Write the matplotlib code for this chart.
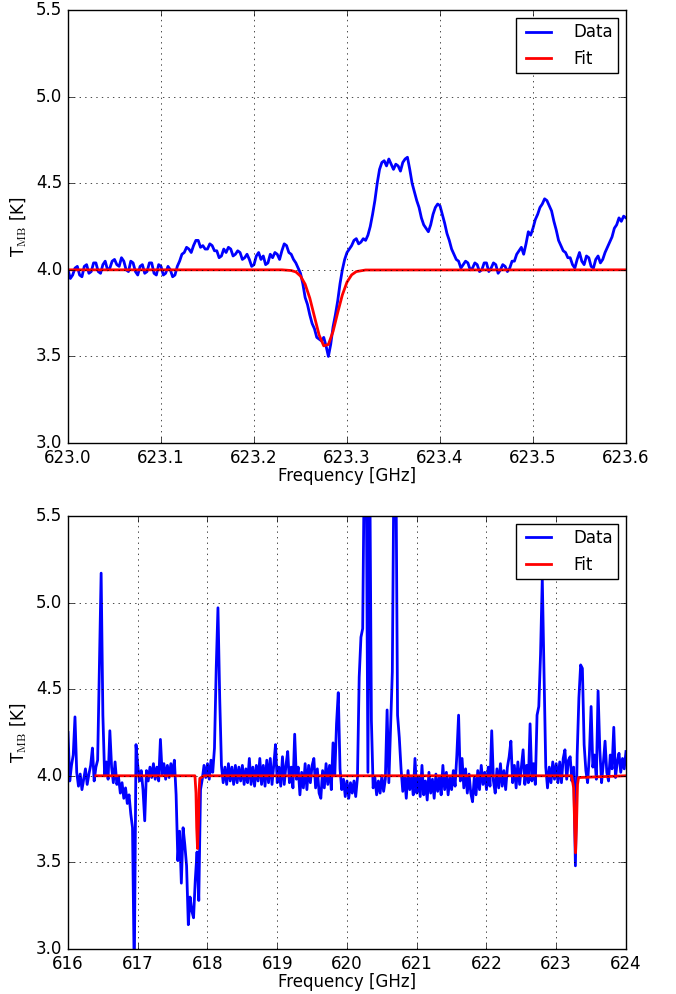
import numpy as np
import matplotlib
matplotlib.use("Agg")
import matplotlib.pyplot as plt
from matplotlib.ticker import FormatStrFormatter

plt.style.use("classic")
plt.rcParams["figure.facecolor"] = "white"
plt.rcParams["savefig.facecolor"] = "white"
plt.rcParams["font.size"] = 12
plt.rcParams["legend.fontsize"] = 12
plt.rcParams["mathtext.fontset"] = "cm"

# ---- zoom on the 623.28 GHz absorption line (2.5 MHz channels) ----
zoom_range = (623.0, 623.6)
zoom_tmb = [
    4.00, 3.95, 3.97, 4.01, 4.02, 3.97, 3.96, 4.02, 4.03, 3.98, 3.99, 4.04, 4.04, 3.99, 3.98, 4.03, 4.05, 4.00, 4.01, 4.05,
    4.06, 4.03, 4.02, 4.07, 4.05, 4.00, 3.99, 4.05, 4.04, 3.99, 3.97, 4.02, 4.03, 3.98, 3.99, 4.04, 4.04, 3.98, 3.97, 4.03,
    4.02, 3.97, 3.98, 4.02, 4.00, 3.96, 3.97, 4.02, 4.05, 4.09, 4.10, 4.13, 4.12, 4.10, 4.14, 4.17, 4.17, 4.13, 4.14, 4.12,
    4.12, 4.15, 4.14, 4.11, 4.11, 4.07, 4.08, 4.12, 4.10, 4.13, 4.12, 4.08, 4.09, 4.11, 4.10, 4.06, 4.07, 4.09, 4.06, 4.02,
    4.03, 4.08, 4.10, 4.06, 4.08, 4.03, 4.04, 4.09, 4.07, 4.10, 4.09, 4.06, 4.11, 4.15, 4.14, 4.10, 4.09, 4.06, 4.04, 4.01,
    3.98, 3.92, 3.84, 3.80, 3.74, 3.69, 3.66, 3.61, 3.60, 3.59, 3.61, 3.56, 3.50, 3.57, 3.67, 3.74, 3.82, 3.92, 4.00, 4.06,
    4.10, 4.12, 4.14, 4.17, 4.18, 4.15, 4.16, 4.18, 4.17, 4.20, 4.25, 4.32, 4.40, 4.50, 4.58, 4.62, 4.63, 4.60, 4.64, 4.61,
    4.58, 4.61, 4.60, 4.57, 4.62, 4.64, 4.65, 4.58, 4.50, 4.45, 4.40, 4.36, 4.30, 4.26, 4.24, 4.22, 4.26, 4.32, 4.36, 4.38,
    4.37, 4.32, 4.27, 4.21, 4.17, 4.12, 4.09, 4.06, 4.05, 4.01, 4.03, 4.05, 4.04, 4.00, 4.01, 4.04, 4.03, 3.99, 4.00, 4.04,
    4.04, 3.99, 4.01, 4.04, 4.03, 3.98, 4.00, 4.03, 4.02, 3.99, 4.01, 4.05, 4.05, 4.09, 4.11, 4.13, 4.09, 4.15, 4.22, 4.20,
    4.24, 4.29, 4.32, 4.36, 4.38, 4.41, 4.40, 4.37, 4.34, 4.28, 4.23, 4.17, 4.14, 4.11, 4.10, 4.07, 4.07, 4.03, 4.01, 4.06,
    4.10, 4.05, 4.03, 4.08, 4.07, 4.02, 4.01, 4.06, 4.08, 4.04, 4.06, 4.10, 4.13, 4.16, 4.19, 4.24, 4.26, 4.30, 4.28, 4.31,
    4.30,
]
zoom_fit_freq = [623.0, 623.230, 623.240, 623.245, 623.250, 623.255, 623.260,
                 623.265, 623.270, 623.275, 623.280, 623.285, 623.290, 623.295,
                 623.300, 623.305, 623.310, 623.320, 623.6]
zoom_fit_tmb = [4.000, 4.000, 3.996, 3.988, 3.964, 3.917, 3.837,
                3.730, 3.624, 3.561, 3.569, 3.644, 3.753, 3.855,
                3.929, 3.971, 3.990, 3.999, 4.000]

# ---- full band 616-624 GHz (25 MHz channels) ----
band_range = (616.0, 624.0)
band_tmb = [
    4.25, 3.97, 4.06, 4.12, 4.34, 4.02, 3.94, 4.01, 3.92, 3.98, 4.04, 3.95, 4.01, 4.06, 4.16, 3.97, 4.05, 4.09, 4.62, 5.17,
    4.35, 4.00, 4.08, 3.98, 4.26, 4.05, 3.96, 4.08, 3.95, 3.99, 3.90, 3.96, 3.87, 3.93, 3.84, 3.89, 3.78, 3.70, 2.85, 4.18,
    4.06, 3.97, 4.03, 3.92, 3.74, 4.03, 3.97, 4.05, 3.99, 4.07, 3.98, 4.05, 3.97, 4.21, 4.01, 4.07, 3.98, 4.06, 3.99, 4.07,
    4.00, 4.09, 3.89, 3.51, 3.68, 3.38, 3.70, 3.60, 3.48, 3.14, 3.30, 3.22, 3.18, 3.40, 3.56, 3.28, 3.92, 3.98, 4.06, 3.99,
    4.07, 3.98, 4.09, 4.02, 4.16, 4.62, 4.97, 4.45, 4.06, 3.96, 4.05, 3.95, 4.07, 3.97, 4.05, 3.95, 4.06, 3.96, 4.05, 3.97,
    4.06, 3.95, 4.04, 3.96, 4.10, 3.95, 4.05, 3.94, 4.06, 3.97, 4.10, 3.95, 4.06, 3.94, 4.09, 3.96, 4.10, 3.95, 4.06, 4.18,
    3.96, 4.05, 3.94, 4.11, 3.95, 4.06, 4.14, 3.96, 4.05, 3.93, 4.24, 3.98, 4.05, 3.89, 4.02, 3.93, 4.07, 3.92, 4.06, 3.96,
    4.06, 4.10, 3.93, 4.04, 3.90, 3.87, 4.03, 3.93, 4.07, 3.95, 4.06, 3.92, 4.19, 4.00, 4.30, 4.48, 4.04, 3.92, 3.98, 3.88,
    3.97, 3.87, 3.96, 3.90, 3.97, 3.88, 3.99, 4.57, 4.80, 4.85, 5.90, 5.85, 4.02, 5.90, 4.32, 3.93, 3.99, 3.89, 3.97, 3.90,
    4.00, 3.91, 3.98, 4.38, 3.96, 4.29, 4.60, 5.90, 5.90, 4.35, 4.22, 4.04, 3.91, 4.00, 3.87, 4.03, 3.92, 3.99, 3.89, 4.10,
    3.90, 3.99, 3.88, 4.06, 3.89, 3.97, 3.86, 4.02, 3.90, 3.98, 3.87, 4.01, 3.91, 3.99, 3.89, 4.06, 3.92, 4.02, 3.89, 3.99,
    3.92, 4.03, 3.94, 4.12, 4.35, 3.97, 4.10, 3.93, 4.04, 3.90, 4.01, 3.90, 3.85, 3.99, 3.89, 4.03, 3.92, 4.06, 3.95, 4.02,
    3.92, 4.05, 3.94, 4.26, 3.97, 3.90, 4.04, 3.93, 4.07, 3.94, 4.03, 3.92, 4.05, 4.11, 4.20, 3.96, 4.06, 3.93, 4.08, 3.95,
    4.05, 4.15, 3.95, 4.06, 3.96, 4.30, 3.97, 4.07, 3.95, 4.35, 4.40, 4.70, 5.14, 4.60, 4.05, 3.93, 4.05, 3.96, 4.08, 3.98,
    4.07, 3.96, 4.08, 3.96, 4.10, 4.15, 3.98, 4.09, 4.11, 3.97, 4.05, 3.48, 4.12, 4.45, 4.64, 4.62, 4.18, 4.03, 3.96, 4.12,
    4.40, 4.05, 4.12, 3.98, 4.49, 4.15, 3.96, 4.07, 4.20, 4.02, 3.97, 4.12, 4.04, 4.28, 3.99, 4.08, 4.13, 4.02, 4.10, 4.04,
    4.14,
]
band_fit_freq = [616.40, 617.820, 617.835, 617.845, 617.857, 617.870, 617.880,
                 617.890, 617.950, 623.220, 623.250, 623.265, 623.277, 623.290,
                 623.305, 623.320, 624.0]
band_fit_tmb = [4.00, 4.00, 3.90, 3.70, 3.58, 3.72, 3.92,
                3.985, 4.00, 4.00, 3.93, 3.70, 3.555, 3.70,
                3.95, 3.99, 4.00]

zoom_freq = np.linspace(zoom_range[0], zoom_range[1], len(zoom_tmb))
band_freq = np.linspace(band_range[0], band_range[1], len(band_tmb))

fig = plt.figure(figsize=(6.76, 9.94), dpi=100)
ax_top = fig.add_axes([0.1006, 0.5543, 0.8254, 0.4356])
ax_bot = fig.add_axes([0.1006, 0.0453, 0.8254, 0.4356])

panels = [
    (ax_top, zoom_freq, zoom_tmb, zoom_fit_freq, zoom_fit_tmb, zoom_range,
     np.arange(623.0, 623.61, 0.1), "%.1f"),
    (ax_bot, band_freq, band_tmb, band_fit_freq, band_fit_tmb, band_range,
     np.arange(616, 625, 1), "%d"),
]

for ax, f, t, ff, ft, xr, xt, fmt in panels:
    ax.plot(f, t, color="blue", lw=2, label="Data")
    ax.plot(ff, ft, color="red", lw=2, label="Fit")
    ax.set_xlim(*xr)
    ax.set_ylim(3.0, 5.5)
    ax.set_xticks(xt)
    ax.set_yticks(np.arange(3.0, 5.51, 0.5))
    ax.xaxis.set_major_formatter(FormatStrFormatter(fmt))
    ax.yaxis.set_major_formatter(FormatStrFormatter("%.1f"))
    ax.grid(True)
    ax.set_xlabel("Frequency [GHz]", labelpad=0)
    ax.set_ylabel(r"T$_\mathrm{MB}$ [K]")
    ax.legend(loc="upper right", borderpad=0.3, handlelength=2.1,
              handletextpad=1.0)

fig.savefig("out.png", dpi=100)
